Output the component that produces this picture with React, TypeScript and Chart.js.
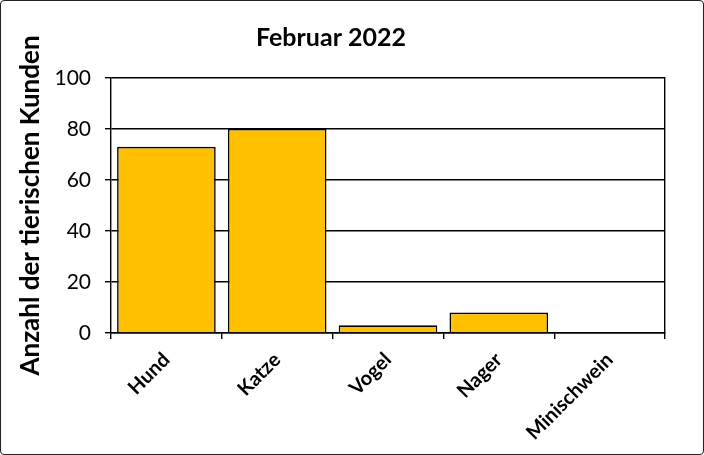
import { useEffect, useRef } from 'react';
import { Chart, registerables } from 'chart.js';

Chart.register(...registerables);

const categories = ['Hund', 'Katze', 'Vogel', 'Nager', 'Minischwein'];
const counts = [73, 80, 3, 8, 0];
const chartTitle = 'Februar 2022';
const yTitle = 'Anzahl der tierischen Kunden';

const FONT = 'Lato, "Open Sans", sans-serif';

// chart title drawn off-centre, like the original
const titlePlugin = {
  id: 'offsetTitle',
  afterDraw(chart: Chart) {
    const ctx = chart.ctx;
    ctx.save();
    ctx.font = `bold 25px ${FONT}`;
    ctx.fillStyle = '#000';
    ctx.textAlign = 'center';
    ctx.textBaseline = 'middle';
    ctx.fillText(chartTitle, 331, 38);
    ctx.restore();
  },
};

export default function App() {
  const canvasRef = useRef<HTMLCanvasElement | null>(null);

  useEffect(() => {
    document.body.style.margin = '0';
    if (!canvasRef.current) return;

    const chart = new Chart(canvasRef.current, {
      type: 'bar',
      data: {
        labels: categories,
        datasets: [
          {
            data: counts,
            backgroundColor: '#FFC000',
            borderColor: '#000',
            borderWidth: 1.6,
            barPercentage: 0.89,
            categoryPercentage: 1,
          },
        ],
      },
      options: {
        animation: false,
        responsive: false,
        devicePixelRatio: 1,
        layout: { padding: { top: 78, right: 39, left: 0, bottom: 0 } },
        plugins: {
          legend: { display: false },
          tooltip: { enabled: false },
        },
        scales: {
          x: {
            grid: {
              offset: true,
              drawOnChartArea: false,
              drawTicks: true,
              tickLength: 6,
              color: '#000',
              lineWidth: 1.4,
            },
            border: { color: '#000', width: 1.4 },
            ticks: {
              color: '#000',
              font: { family: FONT, size: 20, weight: 'bold' },
              minRotation: 45,
              maxRotation: 45,
              padding: 9,
            },
            afterFit(scale: any) {
              scale.height = 122;
            },
          },
          y: {
            min: 0,
            max: 100,
            ticks: {
              stepSize: 20,
              color: '#000',
              font: { family: FONT, size: 21 },
              padding: 14,
            },
            grid: { color: '#000', lineWidth: 1.4, tickLength: 6 },
            border: { color: '#000', width: 1.4 },
            title: {
              display: true,
              text: yTitle,
              color: '#000',
              font: { family: FONT, size: 26, weight: 'bold' },
              padding: { top: 15, bottom: 0 },
            },
            afterFit(scale: any) {
              scale.width = 111;
            },
          },
          y2: {
            position: 'right',
            min: 0,
            max: 100,
            ticks: { display: false },
            grid: { display: false, drawTicks: false },
            border: { display: true, color: '#000', width: 1.4 },
            afterFit(scale: any) {
              scale.width = 0;
            },
          },
        },
      },
      plugins: [titlePlugin],
    });

    return () => chart.destroy();
  }, []);

  return (
    <div style={{ position: 'relative', width: 704, height: 455 }}>
      <canvas ref={canvasRef} width={704} height={455} />
      <div
        style={{
          position: 'absolute',
          inset: 0,
          border: '1.5px solid #222',
          borderRadius: 4,
          pointerEvents: 'none',
        }}
      />
    </div>
  );
}
